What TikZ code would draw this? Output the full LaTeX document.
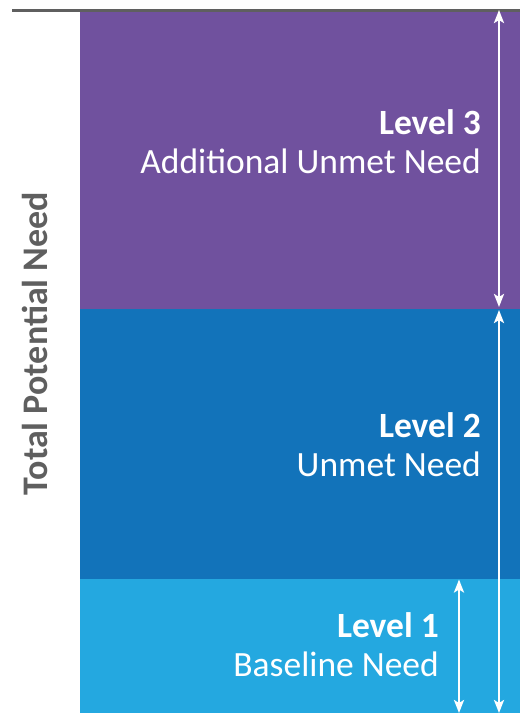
\documentclass[tikz,border=0pt]{standalone}
\usepackage{fontspec}
\setmainfont{Carlito}
\usetikzlibrary{positioning,arrows.meta}
\definecolor{lvlthree}{HTML}{70519E}
\definecolor{lvltwo}{HTML}{1273BA}
\definecolor{lvlone}{HTML}{24A8E0}
\definecolor{rulegray}{HTML}{5F5F5F}

\begin{document}
\begin{tikzpicture}[x=1pt,y=-1pt,
    band/.style={inner sep=0pt, outer sep=0pt, anchor=north west, minimum width=440pt},
    lvl/.style={anchor=base east, inner sep=0pt, text=white, font=\fontsize{35.5}{40}\selectfont},
    lvlhead/.style={lvl, font=\fontsize{35.5}{40}\selectfont\bfseries},
    span/.style={white, line width=2.5pt, {Stealth[width=10pt,length=13pt,inset=3pt]}-{Stealth[width=10pt,length=13pt,inset=3pt]}}]
    \useasboundingbox (0,0) rectangle (520,713);

    % the three levels
    \node[band, fill=lvlthree, minimum height=296.5pt] (l3) at (80,12) {};
    \node[band, fill=lvltwo, minimum height=270pt] (l2) at (80,308.5) {};
    \node[band, fill=lvlone, minimum height=134.5pt] (l1) at (80,578.5) {};
    \draw[rulegray, line width=3.5pt] (12,10.3) -- (520,10.3);

    \node[lvlhead] (t3) at (481,134) {Level 3};
    \node[lvl] (s3) at (481,173) {Additional Unmet Need};
    \node[lvlhead] (t2) at (481,437) {Level 2};
    \node[lvl] (s2) at (481,476) {Unmet Need};
    \node[lvlhead] (t1) at (439,637) {Level 1};
    \node[lvl] (s1) at (439,676) {Baseline Need};

    \node[rotate=90, anchor=base, inner sep=0pt, text=rulegray, font=\fontsize{36}{40}\selectfont\bfseries] (total) at (47,343.5) {Total Potential Need};

    % arrows
    \coordinate (a3top) at (499,10);
    \coordinate (a3bot) at (499,307);
    \coordinate (a2top) at (499,310);
    \coordinate (a2bot) at (499,713);
    \coordinate (a1top) at (459,579.5);
    \coordinate (a1bot) at (459,713);
    \draw[span] (a3top) -- (a3bot);
    \draw[span] (a2top) -- (a2bot);
    \draw[span] (a1top) -- (a1bot);
\end{tikzpicture}
\end{document}
